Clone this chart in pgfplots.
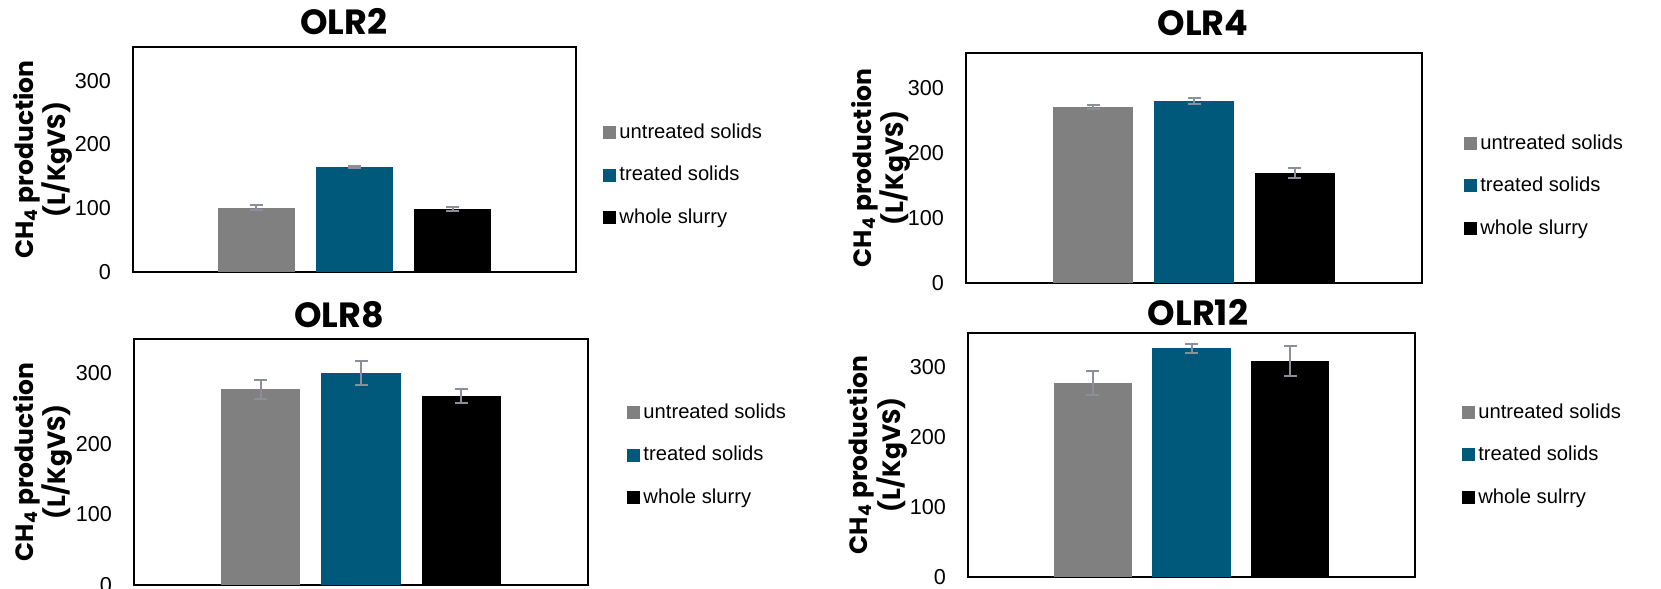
\documentclass[border=0pt]{standalone}
\usepackage{fontspec}
\setmainfont{Liberation Sans}
\newfontfamily\pop{Poppins}
\usepackage{pgfplots}
\pgfplotsset{compat=1.18}
\definecolor{untr}{RGB}{128,128,128}
\definecolor{treat}{RGB}{0,88,122}
\definecolor{errc}{RGB}{138,143,152}
\pgfplotsset{
  olr/.style={
    scale only axis, ymin=0, xmin=-0.26, xmax=4.26,
    ytick={0,100,200,300}, xtick=\empty,
    ytick style={draw=none},
    /pgf/number format/assume math mode=true,
    tick label style={font=\fontsize{10.8}{13}\selectfont},
    yticklabel style={xshift=-7.5pt},
    axis line style={line width=0.8pt},
    bar width=0.79,
    ylabel={CH\textsubscript{4} production\\(L/KgVS)},
    ylabel style={font=\pop\bfseries\fontsize{12.5}{13.5}\selectfont, align=center, anchor=center},
    title style={font=\pop\bfseries\fontsize{17.5}{20}\selectfont, anchor=center, yshift=-6pt},
    legend style={draw=none, fill=none, anchor=west, inner sep=0pt,
      font=\fontsize{10.1}{12}\selectfont, row sep=9.5pt, nodes={inner sep=1.5pt}},
    legend cell align=left,
    legend image code/.code={\fill[##1] (0pt,-3.25pt) rectangle (6.5pt,3.25pt);},
    error bars/y dir=both, error bars/y explicit,
    error bars/error bar style={line width=1pt, color=errc},
    error bars/error mark options={rotate=90, mark size=3.25pt, line width=1pt, color=errc},
  },
}
\begin{document}
\begin{tikzpicture}
\useasboundingbox (0,0) rectangle (830.5pt,294.5pt);
% OLR2
\begin{axis}[olr, at={(66.5pt,158.5pt)}, anchor=south west, width=221.5pt, height=112.5pt, ymax=353,
  title={OLR2}, title style={at={(0.476,1.111)}},
  ylabel style={at={(axis description cs:-0.203,0.5)}},
  legend style={at={(1.061,0.431)}}]
\addplot[ybar, bar shift=0pt, draw=none, fill=untr] coordinates {(1,101) +- (0,4)};
\addplot[ybar, bar shift=0pt, draw=none, fill=treat] coordinates {(2,165) +- (0,2)};
\addplot[ybar, bar shift=0pt, draw=none, fill=black] coordinates {(3,99) +- (0,3)};
\legend{untreated solids, treated solids, whole slurry}
\end{axis}
% OLR4
\begin{axis}[olr, at={(483pt,153pt)}, anchor=south west, width=228pt, height=115pt, ymax=354,
  title={OLR4}, title style={at={(0.520,1.130)}},
  ylabel style={at={(axis description cs:-0.187,0.5)}},
  legend style={at={(1.092,0.422)}}]
\addplot[ybar, bar shift=0pt, draw=none, fill=untr] coordinates {(1,271) +- (0,3)};
\addplot[ybar, bar shift=0pt, draw=none, fill=treat] coordinates {(2,280) +- (0,4)};
\addplot[ybar, bar shift=0pt, draw=none, fill=black] coordinates {(3,169) +- (0,8)};
\legend{untreated solids, treated solids, whole slurry}
\end{axis}
% OLR8
\begin{axis}[olr, at={(67pt,2pt)}, anchor=south west, width=227pt, height=123pt, ymax=348,
  title={OLR8}, title style={at={(0.4515,1.0976)}},
  ylabel style={at={(axis description cs:-0.200,0.5)}},
  legend style={at={(1.086,0.528)}}]
\addplot[ybar, bar shift=0pt, draw=none, fill=untr] coordinates {(1,277) +- (0,13.5)};
\addplot[ybar, bar shift=0pt, draw=none, fill=treat] coordinates {(2,300) +- (0,16.5)};
\addplot[ybar, bar shift=0pt, draw=none, fill=black] coordinates {(3,267) +- (0,10)};
\legend{untreated solids, treated solids, whole slurry}
\end{axis}
% OLR12
\begin{axis}[olr, at={(484pt,6pt)}, anchor=south west, width=223.5pt, height=122pt, ymax=349,
  title={OLR12}, title style={at={(0.5145,1.082)}},
  ylabel style={at={(axis description cs:-0.203,0.5)}},
  legend style={at={(1.105,0.5)}}]
\addplot[ybar, bar shift=0pt, draw=none, fill=untr] coordinates {(1,277) +- (0,17)};
\addplot[ybar, bar shift=0pt, draw=none, fill=treat] coordinates {(2,327) +- (0,6)};
\addplot[ybar, bar shift=0pt, draw=none, fill=black] coordinates {(3,309) +- (0,21)};
\legend{untreated solids, treated solids, whole sulrry}
\end{axis}
\end{tikzpicture}
\end{document}
